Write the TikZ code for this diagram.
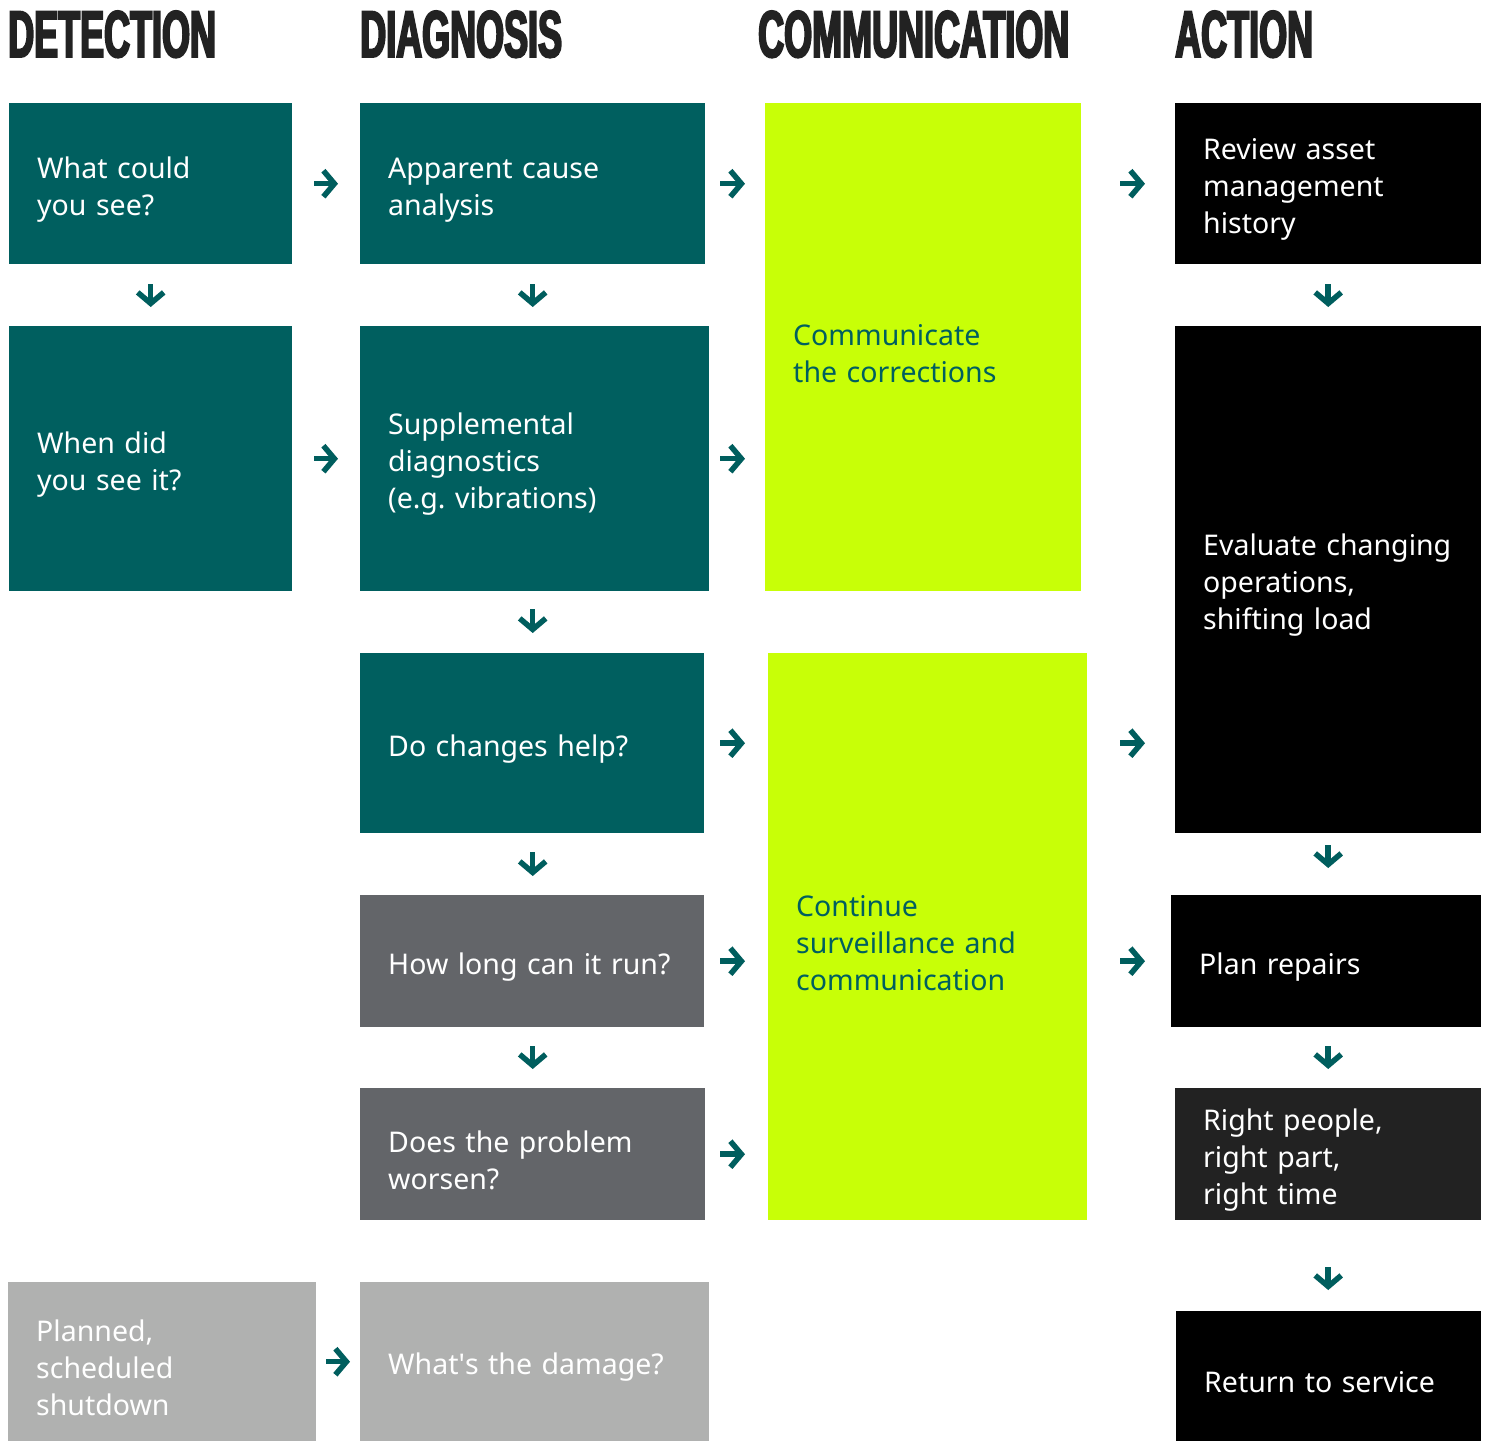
\documentclass[tikz,border=0pt]{standalone}
\usepackage{fontspec}
\setmainfont{Noto Sans}
\newfontfamily\headfont[FakeStretch=0.545,BoldFeatures={FakeBold=3}]{Liberation Sans}
\usepackage{tikz}
\usetikzlibrary{arrows.meta,positioning,calc}
\usepackage{xcolor}

\definecolor{tealbox}{HTML}{005F5F}
\definecolor{lime}{HTML}{C8FF07}
\definecolor{slate}{HTML}{636569}
\definecolor{silver}{HTML}{B0B1B0}
\definecolor{ink}{HTML}{222222}
\definecolor{arrowteal}{HTML}{005E5E}

\tikzset{
  box/.style={fill=#1, text=white, anchor=north west, inner xsep=28pt, inner ysep=0pt,
    align=left, font=\fontsize{28.5}{37}\selectfont,
    execute at begin node={\rule{0pt}{33pt}}},
  limebox/.style={box=lime, text=tealbox},
  heading/.style={anchor=base west, inner sep=0pt, text=ink,
    font=\headfont\bfseries\fontsize{66}{66}\selectfont},
  arr/.style={draw=arrowteal, line width=5.5pt, -{Straight Barb[length=11pt,width=26pt]}}
}

\begin{document}
\begin{tikzpicture}[x=1pt, y=-1pt]
    \useasboundingbox[fill=white] (0,0) rectangle (1487,1441);

    % Column headings
    \node[heading] (hdet) at (8,57) {DETECTION};
    \node[heading] (hdia) at (360,57) {DIAGNOSIS};
    \node[heading] (hcom) at (758,57) {COMMUNICATION};
    \node[heading] (hact) at (1175,57) {ACTION};

    % Detection
    \node[box=tealbox, minimum height=161, text width=227] (see) at (9,103) {What could\\you see?};
    \node[box=tealbox, minimum height=265, text width=227] (when) at (9,326) {When did\\you see it?};
    \node[box=silver, minimum height=159, text width=252] (planned) at (8,1282) {Planned,\\scheduled\\shutdown};

    % Diagnosis
    \node[box=tealbox, minimum height=161, text width=289] (cause) at (360,103) {Apparent cause\\analysis};
    \node[box=tealbox, minimum height=265, text width=293] (suppl) at (360,326) {Supplemental\\diagnostics\\(e.g.~vibrations)};
    \node[box=tealbox, minimum height=180, text width=288] (help) at (360,653) {Do~changes~help?};
    \node[box=slate, minimum height=132, text width=288] (run) at (360,895) {How~long~can~it~run?};
    \node[box=slate, minimum height=132, text width=289] (worse) at (360,1088) {Does~the~problem\\worsen?};
    \node[box=silver, minimum height=159, text width=293] (damage) at (360,1282) {What\textquotesingle s~the~damage?};

    % Communication
    \node[limebox, minimum height=488, text width=260] (corr) at (765,103) {Communicate\\the corrections};
    \node[limebox, minimum height=567, text width=263] (surv) at (768,653) {Continue\\surveillance~and\\communication};

    % Action
    \node[box=black, minimum height=161, text width=250] (review) at (1175,103) {Review asset\\management\\history};
    \node[box=black, minimum height=507, text width=250] (eval) at (1175,326) {Evaluate~changing\\operations,\\shifting load};
    \node[box=black, minimum height=132, text width=254] (repair) at (1171,895) {Plan~repairs};
    \node[box=ink, minimum height=132, text width=250] (people) at (1175,1088) {Right people,\\right part,\\right time};
    \node[box=black, minimum height=130, text width=249] (service) at (1176,1311) {Return~to~service};

    % Detection -> Diagnosis
    \draw[arr, shorten <=22pt, shorten >=22pt] (see.east) -- (cause.west);
    \draw[arr, shorten <=22pt, shorten >=22pt] (when.east) -- (suppl.west);
    \draw[arr, shorten <=10pt, shorten >=10pt] (planned.east) -- (damage.west);

    % Diagnosis -> Communication
    \draw[arr, shorten <=15pt, shorten >=20pt] (cause.east) -- (cause.east -| corr.west);
    \draw[arr, shorten <=11pt, shorten >=20pt] (suppl.east) -- (suppl.east -| corr.west);
    \draw[arr, shorten <=16pt, shorten >=23pt] (help.east) -- (help.east -| surv.west);
    \draw[arr, shorten <=16pt, shorten >=23pt] (run.east) -- (run.east -| surv.west);
    \draw[arr, shorten <=15pt, shorten >=23pt] (worse.east) -- (worse.east -| surv.west);

    % Communication -> Action
    \draw[arr, shorten <=39pt, shorten >=30pt] (corr.east |- review.west) -- (review.west);
    \draw[arr, shorten <=33pt, shorten >=30pt] (surv.east |- help.east) -- (eval.west |- help.east);
    \draw[arr, shorten <=33pt, shorten >=26pt] (surv.east |- repair.west) -- (repair.west);

    % Downward steps
    \draw[arr, shorten <=20pt, shorten >=19pt] (see.south) -- (when.north);
    \draw[arr, shorten <=20pt, shorten >=19pt] (cause.south) -- (cause.south |- suppl.north);
    \draw[arr, shorten <=18pt, shorten >=20pt] (cause.south |- suppl.south) -- (cause.south |- help.north);
    \draw[arr, shorten <=19pt, shorten >=19pt] (cause.south |- help.south) -- (cause.south |- run.north);
    \draw[arr, shorten <=19pt, shorten >=19pt] (cause.south |- run.south) -- (cause.south |- worse.north);
    \draw[arr, shorten <=20pt, shorten >=19pt] (review.south) -- (eval.north);
    \draw[arr, shorten <=12pt, shorten >=27pt] (eval.south) -- (eval.south |- repair.north);
    \draw[arr, shorten <=19pt, shorten >=19pt] (eval.south |- repair.south) -- (people.north);
    \draw[arr, shorten <=47pt, shorten >=21pt] (people.south) -- (people.south |- service.north);
\end{tikzpicture}
\end{document}
